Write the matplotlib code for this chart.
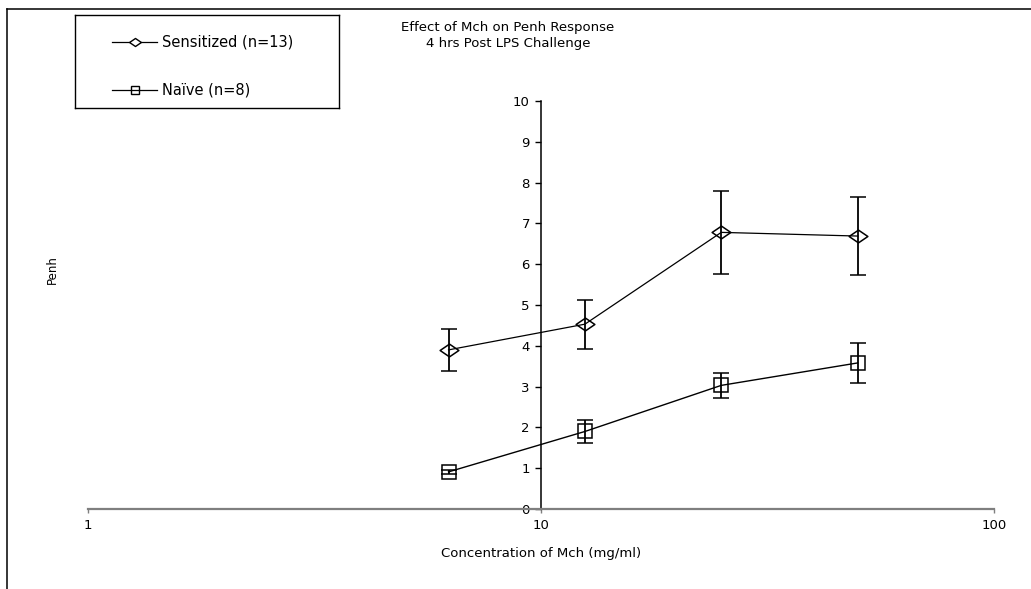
import numpy as np
import matplotlib
matplotlib.use('Agg')
import matplotlib.pyplot as plt
from matplotlib.path import Path
from matplotlib.lines import Line2D
from matplotlib.ticker import FixedLocator, NullLocator, FixedFormatter

# dados
conc = [6.25, 12.5, 25, 50]
sens_mean = [3.90, 4.53, 6.78, 6.69]
sens_err = [0.52, 0.60, 1.02, 0.95]
naive_mean = [0.91, 1.90, 3.03, 3.58]
naive_err = [0.05, 0.28, 0.31, 0.50]
xticks = [1, 10, 100]
xtick_labels = ['1', '10', '100']
yticks = list(range(0, 11))

W, H = 1031, 589
fig = plt.figure(figsize=(W / 100, H / 100), dpi=100)

# losango achatado (mais largo que alto)
diamond = Path([(-1, 0), (0, 0.68), (1, 0), (0, -0.68), (-1, 0)],
               [Path.MOVETO, Path.LINETO, Path.LINETO, Path.LINETO, Path.CLOSEPOLY])

ax = fig.add_axes([88 / W, 1 - 509 / H, (994 - 88) / W, (509 - 101) / H])
ax.set_xscale('log')
ax.set_xlim(1, 100)
ax.set_ylim(0, 10)

ax.errorbar(conc, sens_mean, yerr=sens_err, color='black', lw=0.9,
            marker=diamond, markersize=13.5, mfc='none', mec='black', mew=1.1,
            elinewidth=1.3, capsize=5.5, capthick=1.3, zorder=3)
ax.errorbar(conc, naive_mean, yerr=naive_err, color='black', lw=1.0,
            marker='s', markersize=10.5, mfc='none', mec='black', mew=1.1,
            elinewidth=1.3, capsize=5.5, capthick=1.3, zorder=3)

for s in ['top', 'right']:
    ax.spines[s].set_visible(False)
ax.spines['left'].set_position(('data', 10))
ax.spines['left'].set_linewidth(1.1)
ax.spines['bottom'].set_color('#7f7f7f')
ax.spines['bottom'].set_linewidth(1.6)

ax.xaxis.set_major_locator(FixedLocator(xticks))
ax.xaxis.set_major_formatter(FixedFormatter(xtick_labels))
ax.xaxis.set_minor_locator(NullLocator())
ax.set_yticks(yticks)
ax.tick_params(axis='x', direction='out', length=3, width=1, color='#7f7f7f',
               labelsize=9.5, pad=4)
ax.tick_params(axis='y', direction='out', length=4, width=1, labelsize=9.5, pad=4)

fig.text(541 / W, 1 - 553 / H, 'Concentration of Mch (mg/ml)', ha='center', va='center',
         fontsize=9.5)
fig.text(52 / W, 1 - 270 / H, 'Penh', ha='center', va='center', rotation=90, fontsize=8.5)
fig.text(508 / W, 1 - 27 / H, 'Effect of Mch on Penh Response', ha='center', va='center',
         fontsize=9.5)
fig.text(508 / W, 1 - 43 / H, '4 hrs Post LPS Challenge', ha='center', va='center',
         fontsize=9.5)

# moldura da area do grafico
fig.add_artist(Line2D([7 / W, 1], [1 - 9 / H, 1 - 9 / H], color='black', lw=1.1))
fig.add_artist(Line2D([7 / W, 7 / W], [0, 1 - 9 / H], color='black', lw=1.1))

# legenda desenhada a mao
lax = fig.add_axes([75 / W, 1 - 108 / H, 264 / W, 93 / H])
lax.set_xlim(75, 339)
lax.set_ylim(108, 15)
lax.set_xticks([])
lax.set_yticks([])
for s in lax.spines.values():
    s.set_linewidth(1.0)
lax.plot([112, 157], [42, 42], color='black', lw=0.9)
lax.plot([134.5], [42], marker=diamond, markersize=8.5, mfc='white', mec='black', mew=1)
lax.plot([112, 157], [90, 90], color='black', lw=0.9)
lax.plot([134.5], [90], marker='s', markersize=6, mfc='none', mec='black', mew=1)
lax.text(162, 42, 'Sensitized (n=13)', va='center', fontsize=10.5)
lax.text(162, 90, 'Naïve (n=8)', va='center', fontsize=10.5)

fig.savefig('out.png', dpi=100)
